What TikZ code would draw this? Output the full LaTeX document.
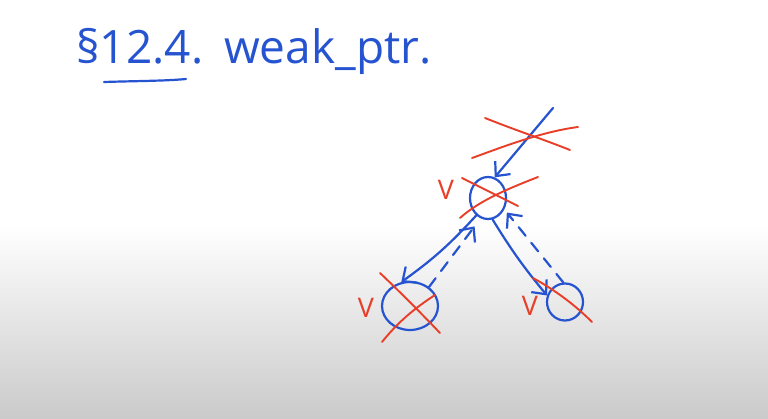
\documentclass[tikz,border=0pt]{standalone}
\usepackage{fontspec}
\setsansfont{Open Sans}
\usetikzlibrary{shapes.geometric,arrows.meta}
\definecolor{inkblue}{RGB}{38,84,208}
\definecolor{inkred}{RGB}{232,62,40}
\definecolor{boardgray}{RGB}{202,202,202}
\tikzset{
  obj/.style={draw=inkblue, line width=2.2pt, ellipse, inner sep=0pt},
  ref/.style={draw=inkblue, line width=2.2pt, line cap=round, -{Straight Barb[length=11pt,width=20pt,line width=2.2pt]}},
  weakref/.style={ref, dash pattern=on 11pt off 9pt},
  cross/.style={draw=inkred, line width=1.9pt, line cap=round},
  tick/.style={text=inkred, font=\sffamily\fontsize{27}{27}\selectfont, inner sep=0pt},
  title/.style={text=inkblue, font=\sffamily\fontsize{46}{52}\selectfont, inner sep=0pt, anchor=base west}
}
\begin{document}
\begin{tikzpicture}[x=1pt,y=-1pt]
\useasboundingbox (0,0) rectangle (768,419);
\fill[white] (0,0) rectangle (768,419);
\shade[top color=white, bottom color=boardgray] (0,225) rectangle (768,419);

% title
\node[title] (sec) at (76,64) {§12.4.};
\node[title] (name) at (224,64) {weak\_ptr.};
\draw[inkblue, line width=2.2pt, line cap=round] (104,82) .. controls (135,81) and (165,81) .. (186,79);

% objects
\node[obj, minimum width=36pt, minimum height=42pt] (top) at (488,198) {};
\node[obj, minimum width=56pt, minimum height=48pt] (left) at (410,306) {};
\node[obj, minimum width=36pt, minimum height=37pt] (right) at (565,302) {};
\coordinate (src) at (553,108);

% references
\draw[ref] (src) -- (top.72);
\draw[ref] (top.236) to[bend left=6] (left.110);
\draw[ref] (top.282) to[bend right=4] (right.160);
\draw[weakref, shorten >=10pt] (left.45) -- (top.250);
\draw[weakref, shorten >=4pt] (right.95) -- (top.-35);

% red crosses
\draw[cross] (485,118) .. controls (515,130) and (545,140) .. (570,150);
\draw[cross] (472,158) .. controls (500,148) and (540,132) .. (578,127);
\draw[cross] (462,178) -- (518,206);
\draw[cross] (460,218) .. controls (480,200) and (510,188) .. (538,177);
\draw[cross] (380,273) .. controls (400,292) and (420,312) .. (440,333);
\draw[cross] (382,342) .. controls (398,322) and (415,308) .. (435,295);
\draw[cross] (533,278) .. controls (555,290) and (575,305) .. (592,322);

% ticks
\node[tick] (v1) at (446,190) {V};
\node[tick] (v2) at (366,308) {V};
\node[tick] (v3) at (530,306) {V};
\end{tikzpicture}
\end{document}
